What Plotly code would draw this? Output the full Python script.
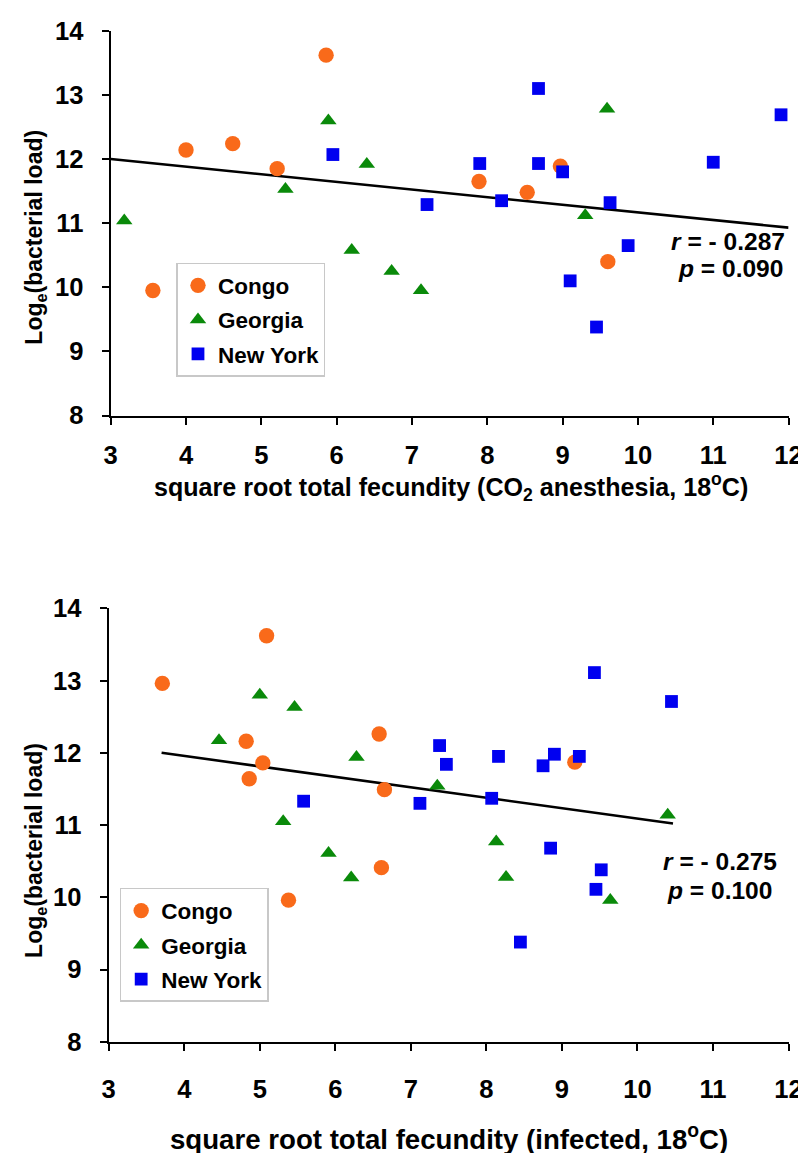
import plotly.graph_objects as go

# ---------------- data ----------------
# Top panel: CO2 anesthesia
top_congo_x = [3.56, 4.00, 4.62, 5.21, 5.86, 7.89, 8.53, 8.97, 9.60]
top_congo_y = [9.95, 12.14, 12.24, 11.85, 13.62, 11.65, 11.48, 11.89, 10.40]
top_georgia_x = [3.18, 5.32, 5.89, 6.20, 6.40, 6.73, 7.12, 9.30, 9.59]
top_georgia_y = [11.04, 11.53, 12.60, 10.58, 11.92, 10.25, 9.95, 11.12, 12.78]
top_ny_x = [5.95, 7.20, 7.90, 8.19, 8.68, 8.68, 9.00, 9.10, 9.45, 9.63, 9.87, 11.00, 11.90]
top_ny_y = [12.07, 11.29, 11.93, 11.35, 13.10, 11.93, 11.80, 10.10, 9.38, 11.32, 10.65, 11.95, 12.69]
top_fit_x = [3.0, 12.0]
top_fit_y = [12.00, 10.93]

# Bottom panel: infected
bot_congo_x = [3.71, 4.82, 4.86, 5.04, 5.09, 5.38, 6.58, 6.61, 6.65, 9.17]
bot_congo_y = [12.96, 12.16, 11.64, 11.86, 13.62, 9.96, 12.26, 10.41, 11.49, 11.87]
bot_georgia_x = [4.46, 5.00, 5.31, 5.46, 5.91, 6.21, 6.28, 7.35, 8.13, 8.26, 9.64, 10.40]
bot_georgia_y = [12.17, 12.80, 11.05, 12.63, 10.61, 10.27, 11.94, 11.54, 10.77, 10.28, 9.96, 11.14]
bot_ny_x = [5.58, 7.12, 7.38, 7.47, 8.07, 8.16, 8.45, 8.75, 8.85, 8.90, 9.23, 9.43, 9.45, 9.52, 10.45]
bot_ny_y = [11.33, 11.30, 12.10, 11.84, 11.37, 11.95, 9.38, 11.82, 10.68, 11.98, 11.95, 13.11, 10.11, 10.38, 12.71]
bot_fit_x = [3.70, 10.47]
bot_fit_y = [12.00, 11.02]

x_ticks = [3, 4, 5, 6, 7, 8, 9, 10, 11, 12]
y_ticks = [8, 9, 10, 11, 12, 13, 14]

top_stats = ["<i>r</i> = - 0.287", "<i>p</i> = 0.090"]
bot_stats = ["<i>r</i> = - 0.275", "<i>p</i> = 0.100"]

series = ["Congo", "Georgia", "New York"]
colors = {"Congo": "#F96A1A", "Georgia": "#0A8A0A", "New York": "#0000F0"}
symbols = {"Congo": "circle", "Georgia": "triangle-up", "New York": "square"}

# the photographed page shows the figure slightly reduced and offset
S = 0.977
OX, OY = 14, 21
W, H = 806, 1158
FONT = "Liberation Sans, Arial, Helvetica, sans-serif"


def fx(xr):  # target picture x -> figure px
    return (xr - OX) / S


def fy(yr):  # target picture y -> figure px
    return max(0.0, (yr - OY) / S)


def PX(xr):
    return fx(xr) / W


def PY(yr):
    return 1 - fy(yr) / H


def z(v):  # size in picture px -> figure px
    return v / S


sizes = {"Congo": z(15), "Georgia": z(14), "New York": z(12.5)}

fig = go.Figure()

panels = [
    ("x", "y", "legend", [(top_congo_x, top_congo_y), (top_georgia_x, top_georgia_y), (top_ny_x, top_ny_y)], (top_fit_x, top_fit_y)),
    ("x2", "y2", "legend2", [(bot_congo_x, bot_congo_y), (bot_georgia_x, bot_georgia_y), (bot_ny_x, bot_ny_y)], (bot_fit_x, bot_fit_y)),
]

for xa, ya, leg, pts, fit in panels:
    fig.add_trace(go.Scatter(x=fit[0], y=fit[1], mode="lines", xaxis=xa, yaxis=ya,
                             line=dict(color="black", width=2.6), showlegend=False, hoverinfo="skip"))
    for name, (xs, ys) in zip(series, pts):
        fig.add_trace(go.Scatter(
            x=xs, y=ys, mode="markers", name=name, xaxis=xa, yaxis=ya,
            legend=leg, legendgroup=leg + name,
            marker=dict(color=colors[name], symbol=symbols[name], size=sizes[name], line=dict(width=0)),
            cliponaxis=False))

axis_common = dict(
    showline=True, linecolor="black", linewidth=2, mirror=False,
    ticks="outside", ticklen=z(7), tickwidth=2, tickcolor="black",
    showgrid=False, zeroline=False, ticklabeloverflow="allow",
    tickfont=dict(family=FONT, size=z(25), color="black", weight="bold"),
)

legend_common = dict(xanchor="left", yanchor="top", bgcolor="white",
                     bordercolor="#C8C8C8", borderwidth=1.5,
                     font=dict(family=FONT, size=z(22), color="black", weight="bold"),
                     tracegroupgap=2, itemwidth=30)

fig.update_layout(
    width=W, height=H,
    margin=dict(l=0, r=0, t=0, b=0),
    paper_bgcolor="white", plot_bgcolor="white",
    font=dict(family=FONT, color="black"),
    xaxis=dict(domain=[PX(110), PX(790)], range=[3, 12], tickvals=x_ticks, anchor="y",
               ticklabelstandoff=9, **axis_common),
    yaxis=dict(domain=[PY(415), 1 - 9 / H], range=[8, 14], tickvals=y_ticks, anchor="x",
               ticklabelstandoff=13, **axis_common),
    xaxis2=dict(domain=[PX(108), PX(790)], range=[3, 12], tickvals=x_ticks, anchor="y2",
                ticklabelstandoff=16, **axis_common),
    yaxis2=dict(domain=[PY(1042), PY(608)], range=[8, 14], tickvals=y_ticks, anchor="x2",
                ticklabelstandoff=13, **axis_common),
    legend=dict(x=PX(176), y=PY(262), **legend_common),
    legend2=dict(x=PX(119), y=PY(888), **legend_common),
)


def paper_ann(text, px, py, size, angle=0, xanchor="center"):
    fig.add_annotation(text="<b>" + text + "</b>", xref="paper", yref="paper",
                       x=PX(px), y=PY(py), xanchor=xanchor, yanchor="middle",
                       showarrow=False, textangle=angle,
                       font=dict(family=FONT, size=z(size), color="black"))


# axis titles
paper_ann("square root total fecundity (CO<sub>2</sub> anesthesia, 18<sup>o</sup>C)", 451, 487, 24.5)
paper_ann("square root total fecundity (infected, 18<sup>o</sup>C)", 449, 1137, 27)
paper_ann("Log<sub>e</sub>(bacterial load)", 35, 236, 22.5, angle=-90)
paper_ann("Log<sub>e</sub>(bacterial load)", 35, 850, 22.5, angle=-90)

# statistics
paper_ann(top_stats[0], 788, 241, 24, xanchor="right")
paper_ann(top_stats[1], 786, 268, 24, xanchor="right")
paper_ann(bot_stats[0], 780, 862, 24, xanchor="right")
paper_ann(bot_stats[1], 775, 891, 24, xanchor="right")

fig.write_html("out.html")
